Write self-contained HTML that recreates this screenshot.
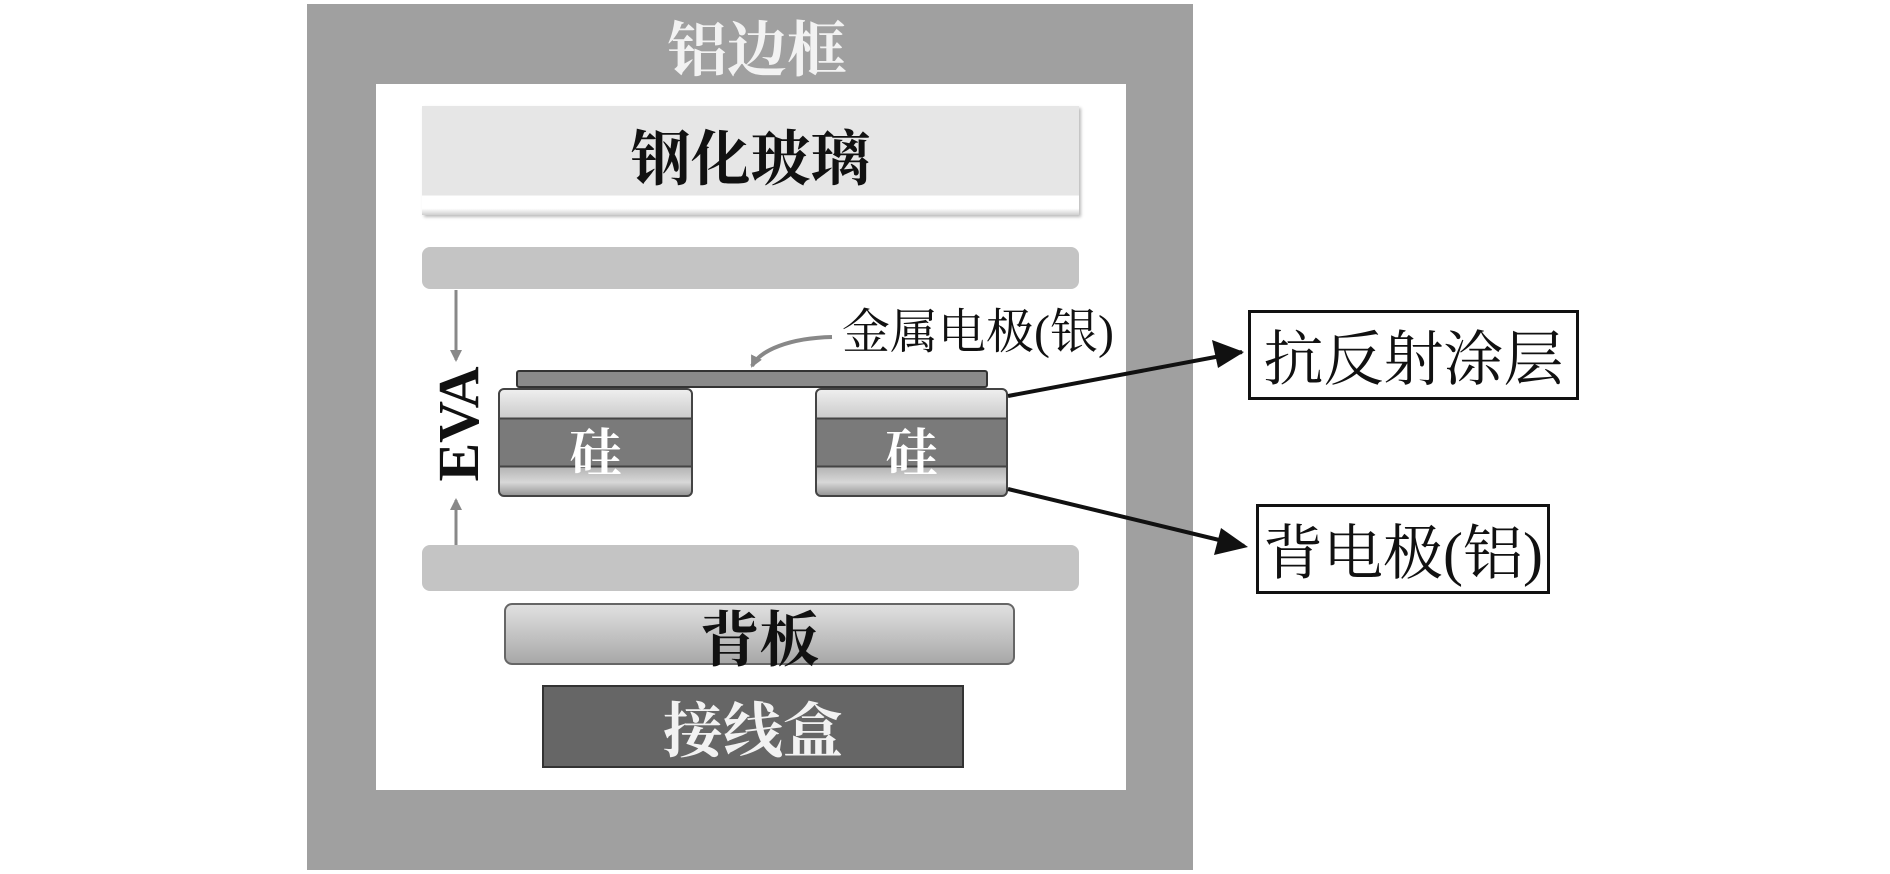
<!DOCTYPE html>
<html><head><meta charset="utf-8"><style>
body{margin:0;width:1890px;height:874px;background:#fff;position:relative;overflow:hidden;font-family:"Liberation Serif","Noto Serif CJK SC",serif;}
div{position:absolute;box-sizing:border-box;}
.t{display:flex;align-items:center;justify-content:center;white-space:nowrap;}
</style></head><body>
<div style="left:307px;top:4px;width:886px;height:866px;background:#a0a0a0;"></div>
<div class="t" style="left:307px;top:12px;width:900px;height:68px;font-size:60px;color:#f2f2f2;font-weight:bold;">铝边框</div>
<div style="left:376px;top:84px;width:750px;height:706px;background:#fff;"></div>
<div style="left:422px;top:106px;width:657px;height:109px;background:linear-gradient(#e6e6e6 0,#e6e6e6 82%,#fff 82%,#fff 94%,#cfcfcf 100%);box-shadow:2px 2px 3px #bbb;"></div>
<div class="t" style="left:422px;top:118px;width:657px;height:74px;font-size:60px;font-weight:bold;color:#111;">钢化玻璃</div>
<div style="left:422px;top:247px;width:657px;height:42px;background:#c4c4c4;border-radius:8px;"></div>
<div style="left:422px;top:545px;width:657px;height:46px;background:#c4c4c4;border-radius:8px;"></div>
<div style="left:504px;top:603px;width:511px;height:62px;background:linear-gradient(#e0e0e0,#a8a8a8);border:2px solid #666;border-radius:8px;"></div>
<div class="t" style="left:504px;top:603px;width:511px;height:66px;font-size:60px;font-weight:bold;color:#111;">背板</div>
<div style="left:542px;top:685px;width:422px;height:83px;background:#666;border:2px solid #333;"></div>
<div class="t" style="left:542px;top:687px;width:422px;height:80px;font-size:60px;font-weight:bold;color:#f2f2f2;">接线盒</div>
<div style="left:498px;top:388px;width:195px;height:109px;border:2px solid #444;border-radius:6px;background:linear-gradient(#eee 0,#ccc 26%,#444 26%,#444 28%,#7a7a7a 28%,#7a7a7a 72%,#444 72%,#444 74%,#b5b5b5 74%,#d8d8d8 88%,#999 100%);"></div>
<div style="left:815px;top:388px;width:193px;height:109px;border:2px solid #444;border-radius:6px;background:linear-gradient(#eee 0,#ccc 26%,#444 26%,#444 28%,#7a7a7a 28%,#7a7a7a 72%,#444 72%,#444 74%,#b5b5b5 74%,#d8d8d8 88%,#999 100%);"></div>
<div class="t" style="left:498px;top:418px;width:195px;height:60px;font-size:52px;color:#fff;font-weight:bold;">硅</div>
<div class="t" style="left:815px;top:418px;width:193px;height:60px;font-size:52px;color:#fff;font-weight:bold;">硅</div>
<div style="left:516px;top:370px;width:472px;height:18px;background:#8a8a8a;border:2px solid #333;border-radius:3px;"></div>
<div class="t" style="left:832px;top:298px;width:292px;height:58px;font-size:48px;color:#111;">金属电极(银)</div>
<div class="t" style="left:398px;top:396px;width:120px;height:56px;font-size:58px;font-weight:bold;color:#111;transform:rotate(-90deg);">EVA</div>
<div class="t" style="left:1248px;top:310px;width:331px;height:90px;border:3px solid #111;font-size:60px;color:#111;">抗反射涂层</div>
<div class="t" style="left:1256px;top:504px;width:294px;height:90px;border:3px solid #111;font-size:60px;color:#111;">背电极(铝)</div>
<svg width="1890" height="874" style="position:absolute;left:0;top:0">
<defs>
<marker id="g" markerWidth="12" markerHeight="12" refX="10" refY="6" orient="auto" markerUnits="userSpaceOnUse"><path d="M0,0 L12,6 L0,12z" fill="#888"/></marker>
</defs>
<line x1="456" y1="290" x2="456" y2="360" stroke="#888" stroke-width="3" marker-end="url(#g)"/>
<line x1="456" y1="545" x2="456" y2="500" stroke="#888" stroke-width="3" marker-end="url(#g)"/>
<path d="M832,337 C790,338 760,350 752,366" stroke="#888" stroke-width="4" fill="none" marker-end="url(#g)"/>
<line x1="1008" y1="396" x2="1242" y2="352" stroke="#111" stroke-width="4"/>
<path d="M1244,352 L1212,340 L1218,368z" fill="#111"/>
<line x1="1008" y1="489" x2="1244" y2="546" stroke="#111" stroke-width="4"/>
<path d="M1248,547 L1221,528 L1214,555z" fill="#111"/>
</svg>
</body></html>
